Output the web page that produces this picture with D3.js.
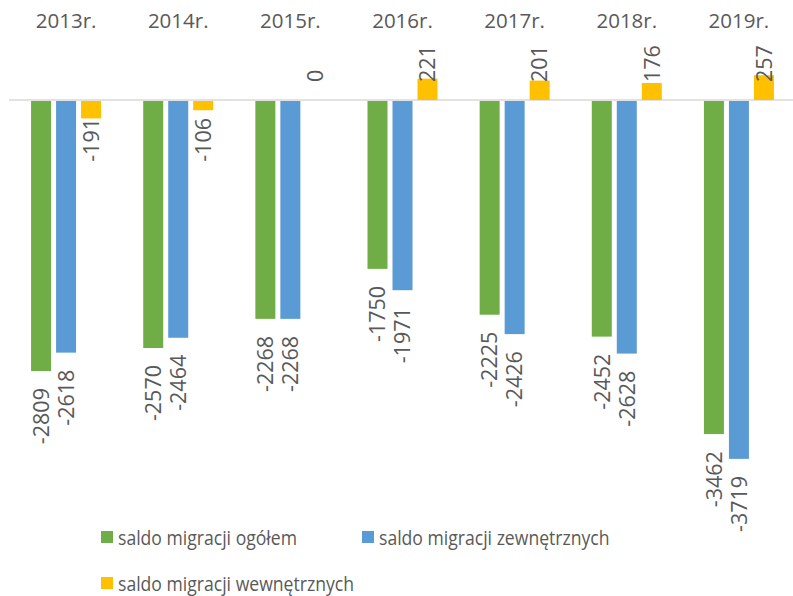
<!DOCTYPE html>
<html>
<head>
<meta charset="utf-8">
<script src="https://cdn.jsdelivr.net/npm/d3@7"></script>
<style>
  body { margin: 0; background: #fff; }
  svg { display: block; font-family: "Open Sans", "DejaVu Sans", sans-serif; }
</style>
</head>
<body>
<svg id="chart"></svg>
<script>
// dane
const years = ["2013r.", "2014r.", "2015r.", "2016r.", "2017r.", "2018r.", "2019r."];
const seriesNames = ["saldo migracji ogółem", "saldo migracji zewnętrznych", "saldo migracji wewnętrznych"];
const ogolem = [-2809, -2570, -2268, -1750, -2225, -2452, -3462];
const zewnetrzne = [-2618, -2464, -2268, -1971, -2426, -2628, -3719];
const wewnetrzne = [-191, -106, 0, 221, 201, 176, 257];
const colors = ["#70AD47", "#5B9BD5", "#FFC000"];

const width = 793, height = 596;
const textColor = "#595959";

const svg = d3.select("#chart").attr("width", width).attr("height", height);

const x0 = d3.scaleBand().domain(years).range([10, 795]).paddingInner(0).paddingOuter(0);
const x1 = d3.scaleBand().domain(seriesNames)
  .range([(x0.bandwidth() - 70) / 2, (x0.bandwidth() + 70) / 2])
  .paddingInner(0.2).paddingOuter(0);
const y = d3.scaleLinear().domain([-4000, 1000]).range([486, 3.5]);

const allSeries = [ogolem, zewnetrzne, wewnetrzne];
const rows = [];
years.forEach((yr, i) => {
  seriesNames.forEach((s, j) => {
    rows.push({ year: yr, series: s, idx: j, value: allSeries[j][i] });
  });
});

// linia zera
svg.append("line")
  .attr("x1", 9).attr("x2", width)
  .attr("y1", y(0)).attr("y2", y(0))
  .attr("stroke", "#D9D9D9").attr("stroke-width", 1.5);

// słupki
svg.append("g").selectAll("rect")
  .data(rows.filter(d => d.value !== 0))
  .join("rect")
  .attr("x", d => x0(d.year) + x1(d.series))
  .attr("width", x1.bandwidth())
  .attr("y", d => Math.min(y(d.value), y(0)) + (d.value < 0 ? 1 : 0))
  .attr("height", d => Math.abs(y(d.value) - y(0)) - (d.value < 0 ? 1 : 0))
  .attr("fill", d => colors[d.idx]);

// etykiety danych
svg.append("g").selectAll("text")
  .data(rows)
  .join("text")
  .attr("transform", d => {
    const cx = x0(d.year) + x1(d.series) + x1.bandwidth() / 2;
    let ty;
    if (d.idx === 2) ty = d.value < 0 ? y(0) + 18 : y(0) - 18;
    else ty = y(d.value) + 17;
    return `translate(${cx},${ty}) rotate(-90)`;
  })
  .attr("text-anchor", d => d.value < 0 ? "end" : "start")
  .attr("dy", "0.36em")
  .attr("fill", textColor)
  .attr("font-size", "21.5px")
  .text(d => d.value);

// kategorie u góry
const xaxis = d3.axisTop(x0).tickSize(0).tickPadding(0);
const xg = svg.append("g")
  .attr("transform", "translate(0,28)")
  .call(xaxis);
xg.select(".domain").remove();
xg.selectAll("text")
  .attr("dy", "0em")
  .attr("fill", textColor)
  .attr("font-size", "20.5px")
  .attr("font-family", "'Open Sans', sans-serif");

// legenda
const legendPos = [[101, 531], [362, 531], [101, 577]];
const legend = svg.append("g").selectAll("g")
  .data(seriesNames)
  .join("g")
  .attr("transform", (d, i) => `translate(${legendPos[i][0]},${legendPos[i][1]})`);
legend.append("rect")
  .attr("width", 12).attr("height", 12)
  .attr("fill", (d, i) => colors[i]);
legend.append("text")
  .attr("transform", "translate(17,13.5) scale(0.88,1)")
  .attr("fill", textColor)
  .attr("font-size", "20px")
  .text(d => d);
</script>
</body>
</html>
